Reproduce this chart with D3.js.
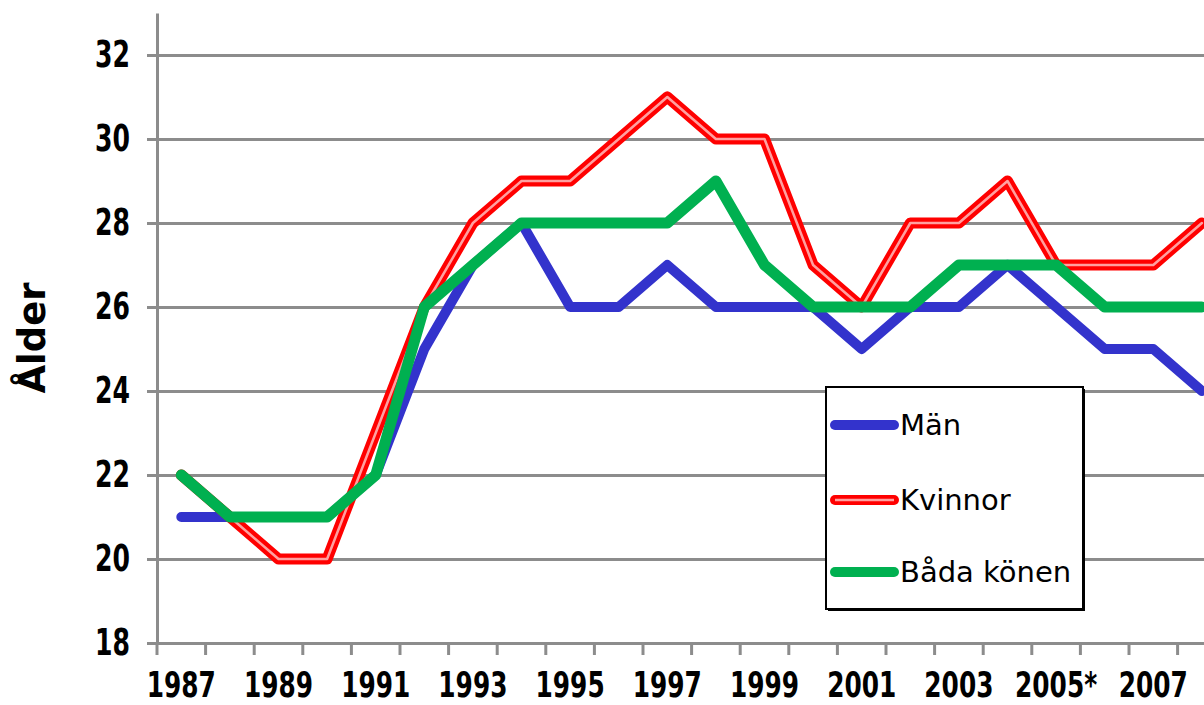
<!DOCTYPE html>
<html>
<head>
<meta charset="utf-8">
<script src="https://cdn.jsdelivr.net/npm/d3@7"></script>
<style>
  body { margin: 0; background: #fff; }
  svg { display: block; }
</style>
</head>
<body>
<div id="chart"></div>
<script>
"use strict";

// data
const years = ["1987", "1988", "1989", "1990", "1991", "1992", "1993", "1994",
  "1995", "1996", "1997", "1998", "1999", "2000", "2001", "2002", "2003",
  "2004", "2005", "2006", "2007", "2008"];
const labelYears = ["1987", "1989", "1991", "1993", "1995", "1997", "1999",
  "2001", "2003", "2005", "2007"];
const man = [21, 21, 21, 21, 22, 25, 27, 28, 26, 26, 27, 26, 26, 26, 25, 26, 26, 27, 26, 25, 25, 24];
const kvinnor = [22, 21, 20, 20, 23, 26, 28, 29, 29, 30, 31, 30, 30, 27, 26, 28, 28, 29, 27, 27, 27, 28];
const badaKonen = [22, 21, 21, 21, 22, 26, 27, 28, 28, 28, 28, 29, 27, 26, 26, 26, 27, 27, 27, 26, 26, 26];
const yTicks = [18, 20, 22, 24, 26, 28, 30, 32];
const seriesNames = ["Män", "Kvinnor", "Båda könen"];

const W = 1204, H = 705;
const left = 157, bandW = 48.6;
const grey = "#8c8c8c";
const colours = { man: "#3333cc", kvinnor: "#ff0000", kvinnorInner: "#ffa0a0", bada: "#00b050" };

const svg = d3.select("#chart").append("svg")
  .attr("width", W)
  .attr("height", H)
  .attr("viewBox", [0, 0, W, H]);

const x = d3.scaleBand().domain(years).range([left, left + years.length * bandW]);
const y = d3.scaleLinear().domain([18, 33]).range([643, 13]);

// y axis with gridlines
const yAxis = svg.append("g")
  .attr("transform", `translate(${left},0)`)
  .call(d3.axisLeft(y).tickValues(yTicks).tickSizeInner(-(W - left)).tickSizeOuter(0).tickPadding(27));
yAxis.select(".domain").attr("stroke", grey).attr("stroke-width", 3);
yAxis.selectAll(".tick line").attr("x1", -10).attr("stroke", grey).attr("stroke-width", 3);
yAxis.selectAll(".tick text")
  .attr("font-family", "DejaVu Sans, Verdana, sans-serif")
  .attr("font-weight", "bold")
  .attr("font-size", 37)
  .attr("fill", "#000")
  .attr("transform", "scale(0.68,1)")
  .attr("x", -27 / 0.68);

// x ticks at the band edges
svg.append("g")
  .selectAll("line")
  .data(years.concat(["end"]))
  .join("line")
  .attr("x1", d => (d === "end" ? x.range()[1] : x(d)))
  .attr("x2", d => (d === "end" ? x.range()[1] : x(d)))
  .attr("y1", y(18))
  .attr("y2", y(18) + 12)
  .attr("stroke", grey)
  .attr("stroke-width", 3);

const xAxis = svg.append("g")
  .attr("transform", `translate(0,${y(18)})`)
  .call(d3.axisBottom(x).tickValues(labelYears).tickSize(0)
    .tickFormat(d => (d === "2005" ? "2005*" : d)));
xAxis.select(".domain").remove();
xAxis.selectAll(".tick text")
  .attr("y", 54)
  .attr("dy", 0)
  .attr("font-family", "DejaVu Sans, Verdana, sans-serif")
  .attr("font-weight", "bold")
  .attr("font-size", 35)
  .attr("fill", "#000")
  .attr("transform", "scale(0.71,1)");

// y axis title
svg.append("text")
  .attr("transform", "translate(45,338) rotate(-90)")
  .attr("text-anchor", "middle")
  .attr("font-family", "DejaVu Sans, Verdana, sans-serif")
  .attr("font-weight", "bold")
  .attr("font-size", 37)
  .text("Ålder");

// lines
const line = d3.line()
  .x((d, i) => x(years[i]) + x.bandwidth() / 2)
  .y(d => y(d));

function drawLine(values, colour, width) {
  svg.append("path")
    .datum(values)
    .attr("d", line)
    .attr("fill", "none")
    .attr("stroke", colour)
    .attr("stroke-width", width)
    .attr("stroke-linejoin", "round")
    .attr("stroke-linecap", "round");
}

drawLine(man, colours.man, 10);
drawLine(kvinnor, colours.kvinnor, 11);
drawLine(kvinnor, colours.kvinnorInner, 2.5);
drawLine(badaKonen, colours.bada, 11);

// legend
const lg = svg.append("g").attr("transform", "translate(826,387)");
lg.append("rect")
  .attr("x", 2).attr("y", 2).attr("width", 257).attr("height", 222)
  .attr("fill", "#000");
lg.append("rect")
  .attr("width", 257).attr("height", 222)
  .attr("fill", "#fff")
  .attr("stroke", "#000")
  .attr("stroke-width", 2);

const legendRows = [
  { name: seriesNames[0], colour: colours.man, inner: null, y: 38 },
  { name: seriesNames[1], colour: colours.kvinnor, inner: colours.kvinnorInner, y: 113 },
  { name: seriesNames[2], colour: colours.bada, inner: null, y: 185 },
];

const row = lg.selectAll("g.row").data(legendRows).join("g")
  .attr("class", "row")
  .attr("transform", d => `translate(0,${d.y})`);
row.append("line")
  .attr("x1", 9).attr("x2", 68)
  .attr("stroke", d => d.colour)
  .attr("stroke-width", 10)
  .attr("stroke-linecap", "round");
row.filter(d => d.inner).append("line")
  .attr("x1", 9).attr("x2", 68)
  .attr("stroke", d => d.inner)
  .attr("stroke-width", 2.5);
row.append("text")
  .attr("x", 74)
  .attr("y", 10)
  .attr("font-family", "DejaVu Sans, Verdana, sans-serif")
  .attr("font-size", 29)
  .attr("fill", "#000")
  .text(d => d.name);
</script>
</body>
</html>
